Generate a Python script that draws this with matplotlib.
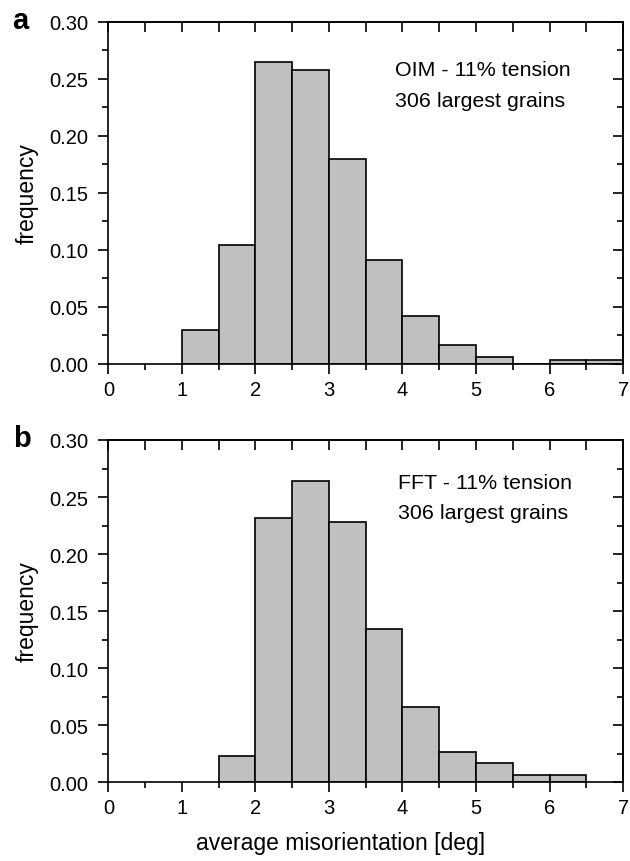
import numpy as np
import matplotlib
matplotlib.use("Agg")
import matplotlib.pyplot as plt
from matplotlib.ticker import MultipleLocator, FormatStrFormatter

plt.rcParams['font.family'] = ['Liberation Sans', 'DejaVu Sans']

# Histogram bins: average misorientation [deg], 0.5 deg wide
bin_edges = [1.0, 1.5, 2.0, 2.5, 3.0, 3.5, 4.0, 4.5, 5.0, 5.5, 6.0, 6.5, 7.0]

# OIM measurement, 11% tension
oim_freq = [0.0294, 0.1046, 0.2647, 0.2582, 0.1797, 0.0915, 0.0425,
            0.0163, 0.0065, 0.0, 0.0033, 0.0033]

# FFT simulation, 11% tension (bins start at 1.5 deg)
fft_edges = [1.5, 2.0, 2.5, 3.0, 3.5, 4.0, 4.5, 5.0, 5.5, 6.0, 6.5]
fft_freq = [0.0229, 0.2314, 0.2640, 0.2280, 0.1340, 0.0654, 0.0261,
            0.0163, 0.0065, 0.0065]

panel_labels = ['a', 'b']
annotations = [["OIM - 11% tension", "306 largest grains"],
               ["FFT - 11% tension", "306 largest grains"]]
ylabel = "frequency"
xlabel = "average misorientation [deg]"

FS_TICK = 14.5
FS_TEXT = 15.4
FS_LABEL = 16.5
fig = plt.figure(figsize=(6.3, 8.62), dpi=100)

left, width = 0.172, 0.817
boxes = [(left, 0.5766, width, 0.3968), (left, 0.0916, width, 0.3968)]
datasets = [(bin_edges, oim_freq), (fft_edges, fft_freq)]
text_pos = [(3.9, 0.258, 0.231), (3.94, 0.263, 0.2365)]

for i, (box, (edges, freq)) in enumerate(zip(boxes, datasets)):
    ax = fig.add_axes(box)
    edges = np.asarray(edges)
    ax.bar(edges[:-1], freq, width=np.diff(edges), align='edge',
           color='#c0c0c0', edgecolor='black', linewidth=1.2, zorder=2)
    ax.set_xlim(0, 7)
    ax.set_ylim(0, 0.30)
    for s in ax.spines.values():
        s.set_linewidth(1.2)
    ax.xaxis.set_major_locator(MultipleLocator(1))
    ax.xaxis.set_minor_locator(MultipleLocator(0.5))
    ax.yaxis.set_major_locator(MultipleLocator(0.05))
    ax.yaxis.set_minor_locator(MultipleLocator(0.025))
    ax.yaxis.set_major_formatter(FormatStrFormatter('%.2f'))
    ax.tick_params(which='major', direction='out', length=7.2, width=1.2,
                   labelsize=FS_TICK)
    ax.tick_params(which='minor', direction='out', length=4.3, width=1.2)
    ax.tick_params(axis='x', which='major', pad=4.5)
    ax.tick_params(axis='y', which='major', pad=7)

    # inward ticks on the top and right frame
    top = ax.secondary_xaxis('top')
    top.xaxis.set_major_locator(MultipleLocator(1))
    top.xaxis.set_minor_locator(MultipleLocator(0.5))
    top.tick_params(which='major', direction='in', length=7.2, width=1.2,
                    labeltop=False)
    top.tick_params(which='minor', direction='in', length=7.2, width=1.2)
    top.spines['top'].set_linewidth(1.2)
    right = ax.secondary_yaxis('right')
    right.yaxis.set_major_locator(MultipleLocator(0.05))
    right.yaxis.set_minor_locator(MultipleLocator(0.025))
    right.tick_params(which='major', direction='in', length=7.2, width=1.2,
                      labelright=False)
    right.tick_params(which='minor', direction='in', length=4.3, width=1.2)
    right.spines['right'].set_linewidth(1.2)

    ax.set_ylabel(ylabel, fontsize=FS_LABEL, labelpad=8)
    tx, ty1, ty2 = text_pos[i]
    ax.text(tx, ty1, annotations[i][0], fontsize=FS_TEXT, ha='left', va='center')
    ax.text(tx, ty2, annotations[i][1], fontsize=FS_TEXT, ha='left', va='center')

    ax.text(-0.186, 0.982, panel_labels[i], transform=ax.transAxes,
            fontsize=21, fontweight='bold', ha='left', va='baseline')

    if i == 1:
        ax.set_xlabel(xlabel, fontsize=FS_LABEL)
        ax.xaxis.set_label_coords(0.452, -0.143)

fig.savefig("out.png", dpi=100)
